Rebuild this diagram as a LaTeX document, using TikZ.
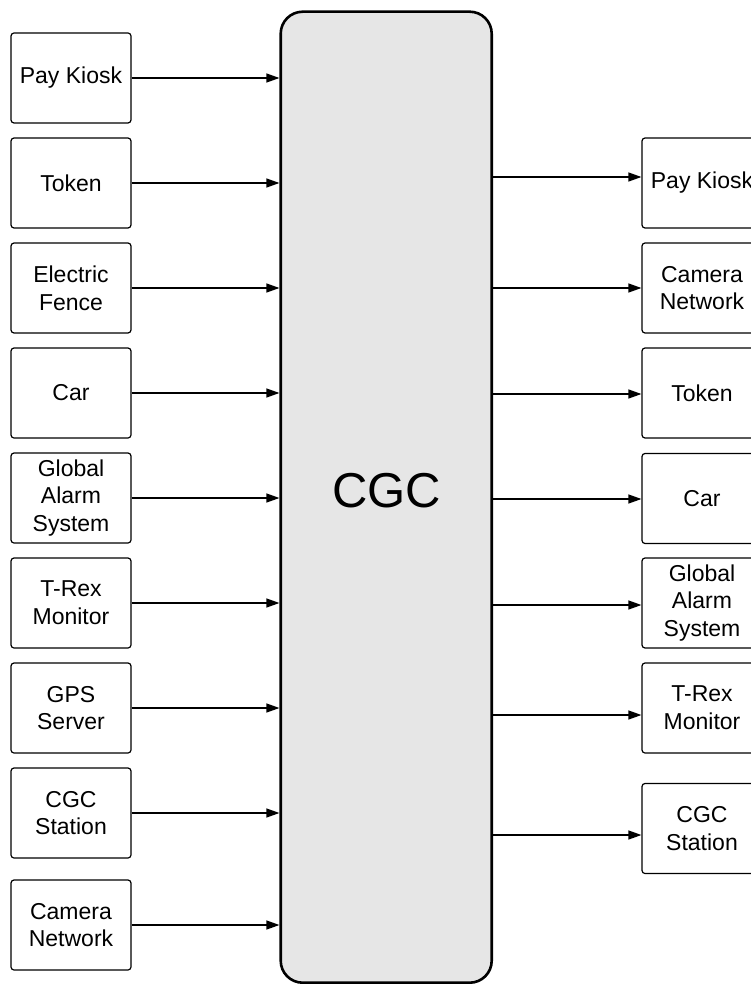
\documentclass[tikz,border=0pt]{standalone}
\usepackage{fontspec}
\setmainfont{Liberation Sans}
\usetikzlibrary{arrows.meta,calc}
\definecolor{cgcfill}{RGB}{230,230,230}
\tikzset{
  box/.style={draw=black, line width=1.2pt, rounded corners=3pt, fill=white,
    minimum width=120pt, minimum height=90pt, inner sep=0pt, align=center,
    font=\fontsize{23}{27.7}\selectfont},
  central/.style={draw=black, line width=2.6pt, rounded corners=22pt, fill=cgcfill,
    minimum width=211pt, minimum height=971pt, inner sep=0pt},
  arr/.style={line width=1.2pt, -{Triangle[length=13pt,width=9pt]}},
}
\begin{document}
\begin{tikzpicture}[x=1pt,y=-1pt]
\useasboundingbox (0,0) rectangle (751,984);
\clip (0,0) rectangle (751,984);
% central block
\node[central] (cgc) at (386.2,497.2) {};
\node[font=\fontsize{49}{55}\selectfont, inner sep=0pt] (cgctext) at (386.5,490.5) {CGC};
% left inputs
\node[box] (l1) at (71,78) {Pay Kiosk};
\node[box] (l2) at (71,183) {Token};
\node[box] (l3) at (71,288) {Electric\\Fence};
\node[box] (l4) at (71,393) {Car};
\node[box] (l5) at (71,498) {Global\\Alarm\\System};
\node[box] (l6) at (71,603) {T-Rex\\Monitor};
\node[box] (l7) at (71,708) {GPS\\Server};
\node[box] (l8) at (71,813) {CGC\\Station};
\node[box] (l9) at (71,925) {Camera\\Network};
% right outputs
\node[box] (r1) at (702,183) {Pay Kiosk};
\node[box] (r2) at (702,288) {Camera\\Network};
\node[box] (r3) at (702,393) {Token};
\node[box] (r4) at (702,498.5) {Car};
\node[box] (r5) at (702,603) {Global\\Alarm\\System};
\node[box] (r6) at (702,708) {T-Rex\\Monitor};
\node[box] (r7) at (702,828.5) {CGC\\Station};
% left arrows
\foreach \n in {l1,l2,l3,l4,l5,l6,l7,l8,l9}{
  \draw[arr] (\n.east) -- (\n.east -| cgc.west);
}
% right arrows
\draw[arr] ([yshift=6pt]r1.west -| cgc.east) -- ([yshift=6pt]r1.west);
\draw[arr] (r2.west -| cgc.east) -- (r2.west);
\draw[arr] ([yshift=-1pt]r3.west -| cgc.east) -- ([yshift=-1pt]r3.west);
\draw[arr] ([yshift=-0.5pt]r4.west -| cgc.east) -- ([yshift=-0.5pt]r4.west);
\draw[arr] ([yshift=-2pt]r5.west -| cgc.east) -- ([yshift=-2pt]r5.west);
\draw[arr] ([yshift=-7pt]r6.west -| cgc.east) -- ([yshift=-7pt]r6.west);
\draw[arr] ([yshift=-6.5pt]r7.west -| cgc.east) -- ([yshift=-6.5pt]r7.west);
\end{tikzpicture}
\end{document}
